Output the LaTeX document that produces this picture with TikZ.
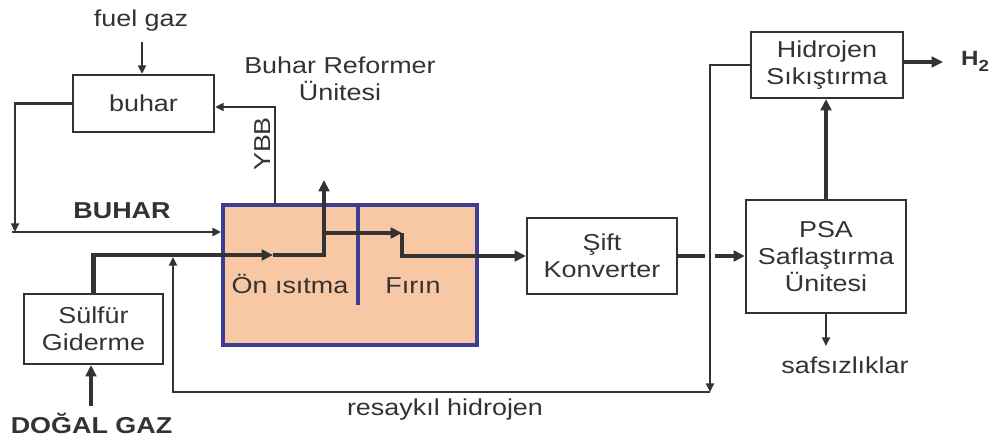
\documentclass[tikz,border=0pt]{standalone}
\usepackage{fontspec}
\setmainfont{Liberation Sans}[FakeStretch=1.17]
\usetikzlibrary{arrows.meta}
\definecolor{ink}{HTML}{333333}
\definecolor{peach}{HTML}{F8C8A4}
\definecolor{furnace}{HTML}{3D3D94}

\begin{document}
\begin{tikzpicture}[x=0.75pt,y=-0.75pt,
  every node/.style={text=ink, font=\fontsize{17.25}{20.5}\selectfont},
  box/.style={draw=ink, line width=1.6pt, fill=white, align=center, inner sep=0pt},
  lbl/.style={anchor=base, inner sep=0pt},
  boldlbl/.style={anchor=base, inner sep=0pt, font=\fontsize{17.25}{20.5}\selectfont\bfseries},
  thickline/.style={draw=ink, line width=3.5pt},
  medline/.style={draw=ink, line width=2.1pt},
  thinline/.style={draw=ink, line width=1.6pt},
  bigtip/.style={-{Triangle[length=8.5pt,width=8pt]}},
  smalltip/.style={-{Triangle[length=6.5pt,width=6pt]}},
]
\useasboundingbox (0,0) rectangle (995,442);

% process units
\node[box, minimum width=105.75pt, minimum height=42.75pt] (buhar) at (143.5,103.5) {buhar};
\node[box, minimum width=104.25pt, minimum height=52.5pt] (sulfur) at (93.5,329) {Sülfür\\Giderme};
\node[draw=furnace, fill=peach, line width=2.8pt, minimum width=190.5pt,
      minimum height=105pt, inner sep=0pt] (reformer) at (350,275) {};
\node[box, minimum width=112.5pt, minimum height=57pt] (shift) at (602,256) {Şift\\Konverter};
\node[box, minimum width=120pt, minimum height=84.75pt] (psa) at (826,256.5) {PSA\\Saflaştırma\\Ünitesi};
\node[box, minimum width=114pt, minimum height=49.5pt] (hidro) at (827,65) {Hidrojen\\Sıkıştırma};

% reformer partition
\coordinate (divbot) at (358,305);
\draw[draw=furnace, line width=2.8pt] (reformer.north -| divbot) -- (divbot);

% labels
\node[lbl] (fuel) at (141,27) {fuel gaz};
\node[align=center, inner sep=0pt] (title) at (340,79) {Buhar Reformer\\Ünitesi};
\node[boldlbl] (steamlbl) at (122,218) {BUHAR};
\node[lbl, rotate=90] (ybblbl) at (270,144) {YBB};
\node[lbl] (preheat) at (290,293) {Ön ısıtma};
\node[lbl] (furn) at (413,293) {Fırın};
\node[lbl] (recycle) at (445,415) {resaykıl hidrojen};
\node[lbl] (impur) at (845,373) {safsızlıklar};
\node[boldlbl] (ngas) at (91.5,433) {DOĞAL GAZ};
\node[anchor=base, inner sep=0pt, font=\fontsize{15.5}{18}\selectfont\bfseries] (h2)
  at (975,66) {H\raisebox{-4pt}{\fontsize{12}{14}\selectfont 2}};

% fuel gas to the boiler
\coordinate (fuelA) at (142,42);
\draw[medline, smalltip] (fuelA) -- (buhar.north -| fuelA);

% flue gas heat back to the boiler
\coordinate (ybb) at (275,107);
\draw[medline, smalltip] (reformer.north -| ybb) |- (buhar.east |- ybb);

% steam to the reformer
\coordinate (stc) at (15,232);
\coordinate (stL) at (12,232);
\draw[medline, smalltip] (buhar.west) -| (stc);
\draw[medline, smalltip] (stL) -- (reformer.west |- stL);

% natural gas through desulphurisation into the preheater
\coordinate (ngA) at (91,406);
\draw[thickline, bigtip] (ngA) -- (sulfur.south -| ngA);
\coordinate (midtip) at (273,255);
\coordinate (riser) at (324,255);
\coordinate (risertop) at (324,180);
\draw[thickline, bigtip] (sulfur.north) |- (midtip);
\draw[thickline, bigtip] (midtip) -- (riser) -- (risertop);

% preheated feed through the furnace to the shift converter
\coordinate (brA) at (324,233);
\coordinate (brB) at (402,233);
\coordinate (brC) at (402,256);
\draw[thickline, bigtip] (brA) -- (brB);
\draw[thickline, bigtip] (brB) -- (brC) -- (shift.west);

% shift converter to PSA, broken where the recycle line crosses
\draw[thickline, bigtip] (shift.east) -- (psa.west |- shift.east);
\draw[white, line width=4.5pt] (705,256) -- (715,256);

% hydrogen recycle
\coordinate (rcA) at (710,392);
\coordinate (rcB) at (173,257);
\draw[thinline, smalltip] (hidro.west) -| (rcA);
\draw[thinline, smalltip] (rcA) -| (rcB);

% PSA to compression and product
\draw[thickline, bigtip] (psa.north) -- (psa.north |- hidro.south);
\coordinate (h2tip) at (943,62);
\draw[thickline, bigtip] (hidro.east |- h2tip) -- (h2tip);

% impurities off the PSA
\coordinate (impY) at (826,346);
\draw[thinline, smalltip] (psa.south) -- (impY);
\end{tikzpicture}
\end{document}
